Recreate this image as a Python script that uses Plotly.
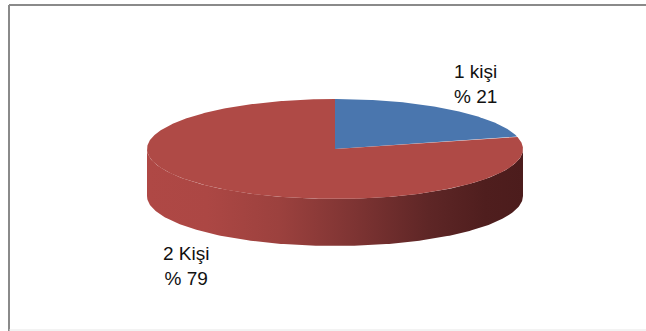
import numpy as np
import plotly.graph_objects as go

# Household size shares (percent)
categories = ["1 kişi", "2 Kişi"]
values = [21, 79]
slice_colors = ["#4A76AE", "#AF4A46"]

# Drawing geometry of the tilted pie (page pixels)
W, H = 646, 331
CX, CY = 335, 149          # centre of the top face
RX, RY = 188, 50           # ellipse radii of the top face
DEPTH = 47                 # thickness of the disc
START_DEG = 90             # first slice begins at 12 o'clock, runs clockwise

# Label anchors (block centres)
label_pos = [(475, 84), (186, 266)]

side_scale = [
    [0.00, "#AF4845"],
    [0.16, "#AC4744"],
    [0.35, "#9C413E"],
    [0.55, "#7E3433"],
    [0.75, "#5E2626"],
    [0.90, "#4F1E1E"],
    [1.00, "#4C1C1C"],
]


def ellipse_pts(t_deg, dy=0.0):
    t = np.radians(t_deg)
    return CX + RX * np.cos(t), CY - RY * np.sin(t) + dy


fig = go.Figure()

# Front wall of the disc (bottom half of the ellipse, extruded downwards)
t_front = np.linspace(180, 360, 200)
xt, yt = ellipse_pts(t_front)
xb, yb = ellipse_pts(t_front[::-1], DEPTH)
fig.add_trace(go.Scatter(
    x=np.concatenate([xt, xb]), y=np.concatenate([yt, yb]),
    mode="lines", fill="toself", line=dict(width=0),
    fillgradient=dict(type="horizontal", colorscale=side_scale),
    hoverinfo="skip", showlegend=False,
))

# Top face slices, angles derived from the values
total = float(sum(values))
angle = START_DEG
for cat, val, col in zip(categories, values, slice_colors):
    sweep = 360.0 * val / total
    t = np.linspace(angle, angle - sweep, max(int(sweep * 2), 20))
    ex, ey = ellipse_pts(t)
    fig.add_trace(go.Scatter(
        x=np.concatenate([[CX], ex, [CX]]), y=np.concatenate([[CY], ey, [CY]]),
        mode="lines", fill="toself", fillcolor=col, line=dict(width=0),
        name=cat, hoverinfo="name", showlegend=False,
    ))
    angle -= sweep

# Data labels
for cat, val, (lx, ly) in zip(categories, values, label_pos):
    fig.add_annotation(
        x=lx, y=ly, xref="x", yref="y", text=f"{cat}<br>% {val}",
        showarrow=False, xanchor="center", yanchor="middle", align="center",
        font=dict(family="Liberation Sans, Arial, sans-serif", size=19, color="#111111"),
    )

# Chart-area frame
fig.add_shape(type="line", xref="x", yref="y", x0=9, x1=W, y0=5, y1=5,
              line=dict(color="#8A8A8A", width=2))
fig.add_shape(type="line", xref="x", yref="y", x0=9, x1=9, y0=5, y1=H,
              line=dict(color="#8A8A8A", width=2))
fig.add_shape(type="line", xref="x", yref="y", x0=9, x1=W, y0=330, y1=330,
              line=dict(color="#E6E6E6", width=1))

fig.update_xaxes(range=[0, W], visible=False, fixedrange=True)
fig.update_yaxes(range=[H, 0], visible=False, fixedrange=True)
fig.update_layout(
    width=W, height=H, margin=dict(l=0, r=0, t=0, b=0),
    paper_bgcolor="white", plot_bgcolor="white",
)

fig.write_html("out.html", config={"displayModeBar": False})
